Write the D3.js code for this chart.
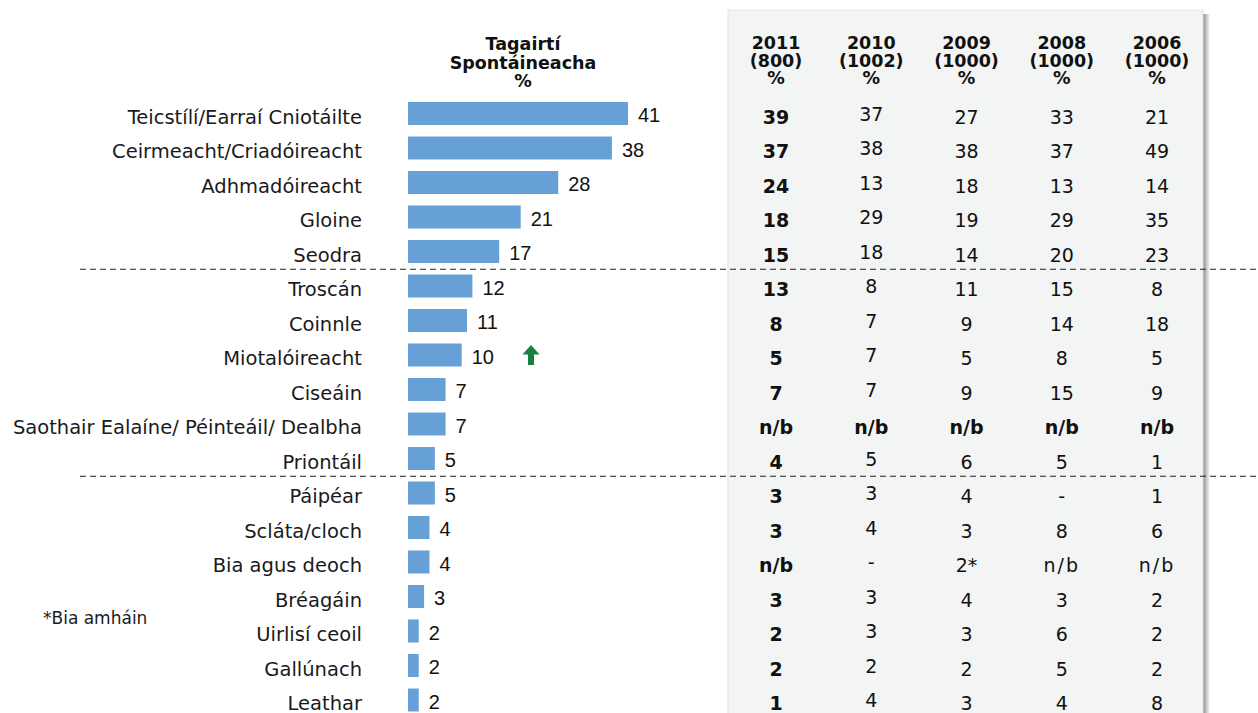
<!DOCTYPE html>
<html>
<head>
<meta charset="utf-8">
<script src="https://cdn.jsdelivr.net/npm/d3@7"></script>
<style>
  body { margin: 0; background: #fff; }
  svg { display: block; }
</style>
</head>
<body>
<div class="board"></div>
<script>
// DATA
var categories = ['Teicstílí/Earraí Cniotáilte', 'Ceirmeacht/Criadóireacht', 'Adhmadóireacht', 'Gloine',
  'Seodra', 'Troscán', 'Coinnle', 'Miotalóireacht', 'Ciseáin', 'Saothair Ealaíne/ Péinteáil/ Dealbha',
  'Priontáil', 'Páipéar', 'Scláta/cloch', 'Bia agus deoch', 'Bréagáin', 'Uirlisí ceoil', 'Gallúnach', 'Leathar'];
var spontaneous = [41, 38, 28, 21, 17, 12, 11, 10, 7, 7, 5, 5, 4, 4, 3, 2, 2, 2];

var years = ['2011', '2010', '2009', '2008', '2006'];
var bases = ['(800)', '(1002)', '(1000)', '(1000)', '(1000)'];
var col2011 = ['39', '37', '24', '18', '15', '13', '8', '5', '7', 'n/b', '4', '3', '3', 'n/b', '3', '2', '2', '1'];
var col2010 = ['37', '38', '13', '29', '18', '8', '7', '7', '7', 'n/b', '5', '3', '4', '-', '3', '3', '2', '4'];
var col2009 = ['27', '38', '18', '19', '14', '11', '9', '5', '9', 'n/b', '6', '4', '3', '2*', '4', '3', '2', '3'];
var col2008 = ['33', '37', '13', '29', '20', '15', '14', '8', '15', 'n/b', '5', '-', '8', 'n/b', '3', '6', '5', '4'];
var col2006 = ['21', '49', '14', '35', '23', '8', '18', '5', '9', 'n/b', '1', '1', '6', 'n/b', '2', '2', '2', '8'];
var tableCols = [col2011, col2010, col2009, col2008, col2006];

var boldRow = 'Saothair Ealaíne/ Péinteáil/ Dealbha';
var dividersAfter = ['Seodra', 'Priontáil'];
var upArrowAt = 'Miotalóireacht';
var footnote = '*Bia amháin';

///BOARD
var width = 1258, height = 713;
var svg = d3.select('.board').append('svg')
  .attr('width', width)
  .attr('height', height);

// scales
var step = 34.5;
var y = d3.scalePoint().domain(categories).range([113.5, 113.5 + 17 * step]);
var x = d3.scaleLinear().domain([0, 41]).range([408, 628]);
var colX = d3.scalePoint().domain(years).range([776, 1157]);
var barH = 23;

// table panel (grey box with shadow on the right)
var defs = svg.append('defs');
var grad = defs.append('linearGradient').attr('id', 'shadow');
grad.append('stop').attr('offset', '0%').attr('stop-color', '#8a8a8a');
grad.append('stop').attr('offset', '100%').attr('stop-color', '#ffffff');

svg.append('rect')
  .attr('x', 1203).attr('y', 14)
  .attr('width', 7).attr('height', height)
  .attr('fill', 'url(#shadow)');
svg.append('rect')
  .attr('x', 728).attr('y', 10)
  .attr('width', 475).attr('height', height)
  .attr('fill', '#f3f4f4')
  .attr('stroke', '#e4e6e6')
  .attr('stroke-width', 1);

// dashed dividers
svg.selectAll('line.divider')
  .data(dividersAfter)
  .enter()
  .append('line')
  .attr('class', 'divider')
  .attr('x1', 80).attr('x2', width)
  .attr('y1', function (d) { return y(d) + step / 2 + 0.5; })
  .attr('y2', function (d) { return y(d) + step / 2 + 0.5; })
  .attr('stroke', '#222')
  .attr('stroke-width', 1.2)
  .attr('stroke-dasharray', '6,4');

// header over bars
svg.append('text')
  .attr('x', 523).attr('y', 50)
  .attr('text-anchor', 'middle')
  .style('font', 'bold 17.5px "DejaVu Sans"')
  .attr('fill', '#111')
  .selectAll('tspan')
  .data(['Tagairtí', 'Spontáineacha', '%'])
  .enter()
  .append('tspan')
  .attr('x', 523)
  .attr('dy', function (d, i) { return i === 0 ? 0 : 18.5; })
  .text(function (d) { return d; });

// category labels
svg.selectAll('text.cat')
  .data(categories)
  .enter()
  .append('text')
  .attr('class', 'cat')
  .attr('x', 362)
  .attr('y', function (d) { return y(d) + 10; })
  .attr('text-anchor', 'end')
  .style('font', '19.5px "DejaVu Sans"')
  .attr('fill', '#1a1a1a')
  .text(function (d) { return d; });

// bars
svg.selectAll('rect.bar')
  .data(spontaneous)
  .enter()
  .append('rect')
  .attr('class', 'bar')
  .attr('x', x(0))
  .attr('y', function (d, i) { return y(categories[i]) - barH / 2; })
  .attr('width', function (d) { return x(d) - x(0); })
  .attr('height', barH)
  .attr('fill', '#66a0d7');

// bar values
svg.selectAll('text.val')
  .data(spontaneous)
  .enter()
  .append('text')
  .attr('class', 'val')
  .attr('x', function (d) { return x(d) + 10; })
  .attr('y', function (d, i) { return y(categories[i]) + 8.5; })
  .style('font', '20px "Liberation Sans", Arial, sans-serif')
  .attr('fill', '#111')
  .text(function (d) { return d; });

// green up arrow
var ax = 531, ay = y(upArrowAt) - 10;
svg.append('path')
  .attr('d', 'M' + ax + ',' + ay +
    ' l8.5,9.5 h-5.5 v10.5 h-6 v-10.5 h-5.5 z')
  .attr('fill', '#16803c');

// table header
years.forEach(function (yr, j) {
  svg.append('text')
    .attr('x', colX(yr)).attr('y', 49)
    .attr('text-anchor', 'middle')
    .style('font', 'bold 17.5px "DejaVu Sans"')
    .attr('fill', '#111')
    .selectAll('tspan')
    .data([yr, bases[j], '%'])
    .enter()
    .append('tspan')
    .attr('x', colX(yr))
    .attr('dy', function (d, i) { return i === 0 ? 0 : 17.5; })
    .text(function (d) { return d; });
});

// table cells
tableCols.forEach(function (col, j) {
  var yr = years[j];
  svg.selectAll('text.c' + yr)
    .data(col)
    .enter()
    .append('text')
    .attr('class', 'c' + yr)
    .attr('x', colX(yr))
    .attr('y', function (d, i) {
      var off = (j === 1 && categories[i] !== boldRow) ? 7 : 10;
      return y(categories[i]) + off;
    })
    .attr('text-anchor', 'middle')
    .style('font', function (d, i) {
      var bold = j === 0 || categories[i] === boldRow;
      return bold ? 'bold 19px "DejaVu Sans"' : '19px "DejaVu Sans"';
    })
    .style('letter-spacing', function (d, i) {
      return (d === 'n/b' && j > 0 && categories[i] !== boldRow) ? '2px' : null;
    })
    .attr('fill', '#111')
    .text(function (d) { return d; });
});

// footnote
svg.append('text')
  .attr('x', 43).attr('y', 624)
  .style('font', '17px "DejaVu Sans"')
  .attr('fill', '#1a1a1a')
  .text(footnote);
</script>
</body>
</html>
